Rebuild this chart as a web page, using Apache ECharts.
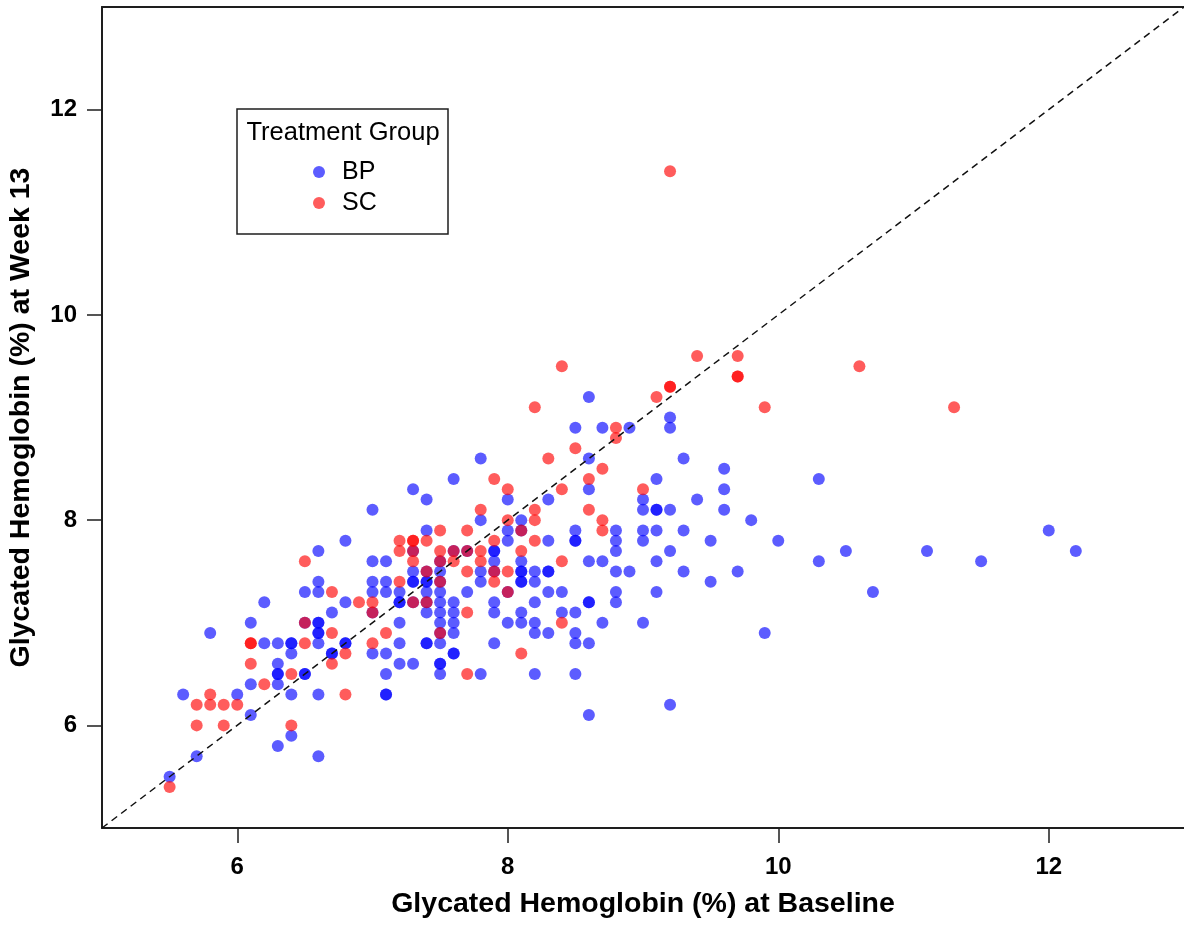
<!DOCTYPE html>
<html>
<head>
<meta charset="utf-8">
<title>Glycated Hemoglobin: Baseline vs Week 13</title>
<script src="https://cdn.jsdelivr.net/npm/echarts@6/dist/echarts.min.js"></script>
<style>
  html, body { margin: 0; padding: 0; background: #fff; }
  #chart { width: 1184px; height: 925px; }
</style>
</head>
<body>
<div id="chart"></div>
<script>
// HbA1c (%) per participant: [baseline, week 13]
const bpPoints = [
  [5.5,5.5],[5.6,6.3],[5.7,5.7],[5.8,6.9],[6.0,6.3],
  [6.1,7.0],[6.1,6.4],[6.1,6.1],
  [6.2,7.2],[6.2,6.8],
  [6.3,6.8],[6.3,6.6],[6.3,6.5],[6.3,6.5],[6.3,6.4],[6.3,5.8],
  [6.4,6.8],[6.4,6.8],[6.4,6.7],[6.4,6.3],[6.4,5.9],
  [6.5,7.3],[6.5,7.0],[6.5,6.5],[6.5,6.5],
  [6.6,7.7],[6.6,7.4],[6.6,7.3],[6.6,7.0],[6.6,7.0],[6.6,6.9],[6.6,6.9],[6.6,6.8],[6.6,6.3],[6.6,5.7],
  [6.7,7.1],[6.7,6.7],[6.7,6.7],
  [6.8,7.8],[6.8,7.2],[6.8,6.8],[6.8,6.8],
  [7.0,8.1],[7.0,7.6],[7.0,7.4],[7.0,7.3],[7.0,7.1],[7.0,6.7],
  [7.1,7.6],[7.1,7.4],[7.1,7.3],[7.1,6.7],[7.1,6.5],[7.1,6.3],[7.1,6.3],
  [7.2,7.3],[7.2,7.2],[7.2,7.2],[7.2,7.0],[7.2,6.8],[7.2,6.6],
  [7.3,8.3],[7.3,7.7],[7.3,7.5],[7.3,7.4],[7.3,7.4],[7.3,7.2],[7.3,6.6],
  [7.4,8.2],[7.4,7.9],[7.4,7.5],[7.4,7.4],[7.4,7.4],[7.4,7.3],[7.4,7.2],[7.4,7.1],[7.4,6.8],[7.4,6.8],
  [7.5,7.6],[7.5,7.5],[7.5,7.4],[7.5,7.3],[7.5,7.2],[7.5,7.1],[7.5,7.0],[7.5,6.9],[7.5,6.8],[7.5,6.6],[7.5,6.6],[7.5,6.5],
  [7.6,8.4],[7.6,7.7],[7.6,7.2],[7.6,7.1],[7.6,7.0],[7.6,6.9],[7.6,6.7],[7.6,6.7],
  [7.7,7.7],[7.7,7.3],
  [7.8,8.6],[7.8,8.0],[7.8,7.5],[7.8,7.4],[7.8,6.5],
  [7.9,7.7],[7.9,7.7],[7.9,7.6],[7.9,7.5],[7.9,7.2],[7.9,7.1],[7.9,6.8],
  [8.0,8.2],[8.0,7.9],[8.0,7.8],[8.0,7.3],[8.0,7.0],
  [8.1,8.0],[8.1,7.9],[8.1,7.6],[8.1,7.5],[8.1,7.5],[8.1,7.4],[8.1,7.4],[8.1,7.1],[8.1,7.0],
  [8.2,7.5],[8.2,7.4],[8.2,7.2],[8.2,7.0],[8.2,6.9],[8.2,6.5],
  [8.3,8.2],[8.3,7.8],[8.3,7.5],[8.3,7.5],[8.3,7.3],[8.3,6.9],
  [8.4,7.3],[8.4,7.1],
  [8.5,8.9],[8.5,7.9],[8.5,7.8],[8.5,7.8],[8.5,7.1],[8.5,6.9],[8.5,6.8],[8.5,6.5],
  [8.6,9.2],[8.6,8.6],[8.6,8.3],[8.6,7.6],[8.6,7.2],[8.6,7.2],[8.6,6.8],[8.6,6.1],
  [8.7,8.9],[8.7,7.6],[8.7,7.0],
  [8.8,7.9],[8.8,7.8],[8.8,7.7],[8.8,7.5],[8.8,7.3],[8.8,7.2],
  [8.9,8.9],[8.9,7.5],
  [9.0,8.2],[9.0,8.1],[9.0,7.9],[9.0,7.8],[9.0,7.0],
  [9.1,8.4],[9.1,8.1],[9.1,8.1],[9.1,7.9],[9.1,7.6],[9.1,7.3],
  [9.2,9.0],[9.2,8.9],[9.2,8.1],[9.2,7.7],[9.2,6.2],
  [9.3,8.6],[9.3,7.9],[9.3,7.5],
  [9.4,8.2],[9.5,7.8],[9.5,7.4],
  [9.6,8.5],[9.6,8.3],[9.6,8.1],
  [9.7,7.5],[9.8,8.0],[9.9,6.9],[10.0,7.8],
  [10.3,8.4],[10.3,7.6],[10.5,7.7],[10.7,7.3],[11.1,7.7],[11.5,7.6],[12.0,7.9],[12.2,7.7]
];

const scPoints = [
  [5.5,5.4],[5.7,6.2],[5.7,6.0],[5.8,6.3],[5.8,6.2],[5.9,6.2],[5.9,6.0],[6.0,6.2],
  [6.1,6.8],[6.1,6.8],[6.1,6.6],[6.2,6.4],[6.4,6.5],[6.4,6.0],
  [6.5,7.6],[6.5,7.0],[6.5,6.8],
  [6.7,7.3],[6.7,6.9],[6.7,6.6],
  [6.8,6.7],[6.8,6.3],[6.9,7.2],
  [7.0,7.2],[7.0,7.1],[7.0,6.8],[7.1,6.9],
  [7.2,7.8],[7.2,7.7],[7.2,7.4],
  [7.3,7.8],[7.3,7.8],[7.3,7.7],[7.3,7.6],[7.3,7.2],
  [7.4,7.8],[7.4,7.5],[7.4,7.2],
  [7.5,7.9],[7.5,7.7],[7.5,7.6],[7.5,7.4],[7.5,6.9],
  [7.6,7.7],[7.6,7.6],
  [7.7,7.9],[7.7,7.7],[7.7,7.5],[7.7,7.1],[7.7,6.5],
  [7.8,8.1],[7.8,7.7],[7.8,7.6],
  [7.9,8.4],[7.9,7.8],[7.9,7.5],[7.9,7.4],
  [8.0,8.3],[8.0,8.0],[8.0,7.5],[8.0,7.3],
  [8.1,7.9],[8.1,7.7],[8.1,6.7],
  [8.2,9.1],[8.2,8.1],[8.2,8.0],[8.2,7.8],
  [8.3,8.6],[8.4,9.5],[8.4,8.3],[8.4,7.6],[8.4,7.0],
  [8.5,8.7],[8.6,8.4],[8.6,8.1],
  [8.7,8.5],[8.7,8.0],[8.7,7.9],
  [8.8,8.9],[8.8,8.8],[9.0,8.3],
  [9.1,9.2],[9.2,9.3],[9.2,9.3],[9.2,11.4],
  [9.4,9.6],[9.7,9.6],[9.7,9.4],[9.7,9.4],[9.9,9.1],[10.6,9.5],[11.3,9.1]
];

// line of identity (week 13 = baseline)
const identityLine = [[5, 5], [13, 13]];

const axisRange = [5, 13];
const tickValues = [6, 8, 10, 12];
const groupNames = ['BP', 'SC'];
const legendTitle = 'Treatment Group';
const xTitle = 'Glycated Hemoglobin (%) at Baseline';
const yTitle = 'Glycated Hemoglobin (%) at Week 13';

const FONT = '"Liberation Sans", Arial, Helvetica, sans-serif';
const AXIS_COLOR = '#1e1e1e';

const chart = echarts.init(document.getElementById('chart'), null, { renderer: 'canvas' });

function mainAxis(position, title, nameGap, labelMargin) {
  return {
    type: 'value',
    position: position,
    min: axisRange[0],
    max: axisRange[1],
    axisLine: { show: true, onZero: false, lineStyle: { color: AXIS_COLOR, width: 2 } },
    axisTick: {
      show: true, inside: false, length: 15, customValues: tickValues,
      lineStyle: { color: AXIS_COLOR, width: 1.5 }
    },
    axisLabel: {
      show: true, customValues: tickValues, margin: labelMargin,
      fontSize: 24, fontWeight: 'bold', color: '#000', fontFamily: FONT
    },
    splitLine: { show: false },
    name: title,
    nameLocation: 'middle',
    nameGap: nameGap,
    nameTextStyle: { fontSize: 28.5, fontWeight: 'bold', color: '#000', fontFamily: FONT }
  };
}

function borderAxis(position) {
  return {
    type: 'value',
    position: position,
    min: axisRange[0],
    max: axisRange[1],
    axisLine: { show: true, onZero: false, lineStyle: { color: AXIS_COLOR, width: 2 } },
    axisTick: { show: false },
    axisLabel: { show: false },
    splitLine: { show: false }
  };
}

const option = {
  animation: false,
  backgroundColor: '#ffffff',
  grid: {
    left: 102, right: 0, top: 7, bottom: 97,
    containLabel: false,
    outerBoundsMode: 'none'
  },
  xAxis: [
    mainAxis('bottom', xTitle, 62, 27),
    borderAxis('top')
  ],
  yAxis: [
    mainAxis('left', yTitle, 66, 25)
  ],
  legend: {
    data: groupNames,
    orient: 'vertical',
    left: 313,
    top: 159.5,
    padding: 0,
    icon: 'circle',
    itemWidth: 36,
    itemHeight: 12,
    itemGap: 6,
    textStyle: { fontSize: 25, color: '#000', fontFamily: FONT, lineHeight: 25 },
    selectedMode: false
  },
  graphic: [
    {
      type: 'rect',
      shape: { x: 237, y: 109, width: 211, height: 125 },
      style: { fill: 'none', stroke: AXIS_COLOR, lineWidth: 1.5 },
      z: 10
    },
    {
      type: 'text',
      x: 343,
      y: 133,
      style: {
        text: legendTitle,
        textAlign: 'center',
        textVerticalAlign: 'middle',
        fontSize: 25.5,
        fontFamily: FONT,
        fill: '#000'
      },
      z: 10
    }
  ],
  series: [
    {
      name: groupNames[0],
      type: 'scatter',
      xAxisIndex: 0,
      yAxisIndex: 0,
      symbol: 'circle',
      symbolSize: 12,
      itemStyle: { color: 'rgba(0,0,255,0.8)' },
      data: bpPoints
    },
    {
      name: groupNames[1],
      type: 'scatter',
      xAxisIndex: 0,
      yAxisIndex: 0,
      symbol: 'circle',
      symbolSize: 12,
      itemStyle: { color: 'rgba(255,0,0,0.8)' },
      data: scPoints
    },
    {
      name: 'identity',
      type: 'line',
      xAxisIndex: 0,
      yAxisIndex: 0,
      data: identityLine,
      showSymbol: false,
      symbol: 'none',
      silent: true,
      lineStyle: { color: '#111', width: 1.5, type: [7, 5] },
      z: 5
    }
  ]
};

chart.setOption(option);
</script>
</body>
</html>
